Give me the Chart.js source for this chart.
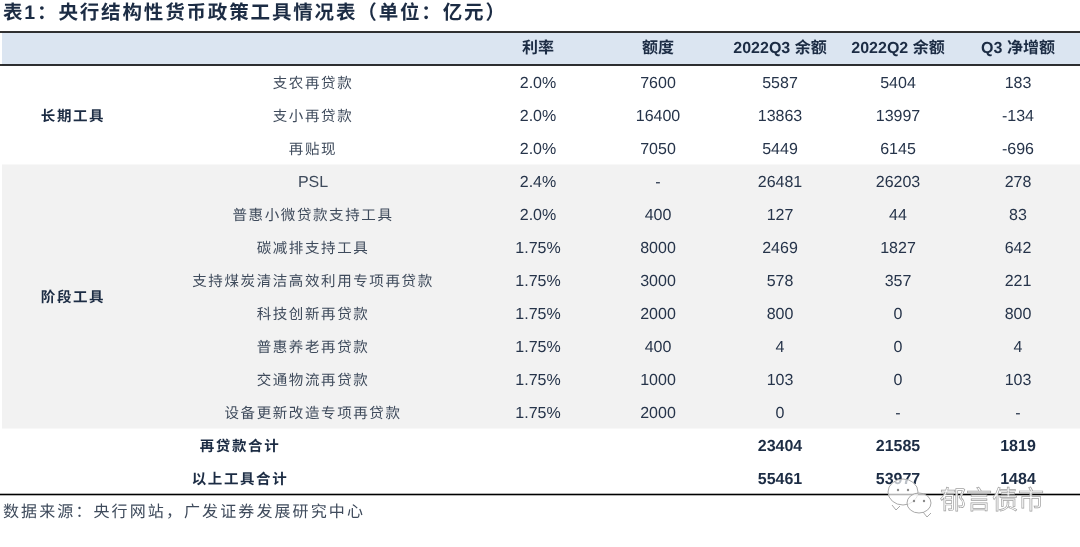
<!DOCTYPE html>
<html>
<head>
<meta charset="utf-8">
<script src="https://cdn.jsdelivr.net/npm/chart.js@4/dist/chart.umd.js"></script>
<style>
  html, body { margin: 0; padding: 0; background: #fff; }
  canvas { display: block; }
</style>
</head>
<body>
<canvas id="c" width="1080" height="547"></canvas>
<script>
// ── table content ─────────────────────────────────────────────
const titleText = "表1：央行结构性货币政策工具情况表（单位：亿元）";
const sourceText = "数据来源：央行网站，广发证券发展研究中心";
const watermarkText = "郁言债市";

const headers = ["", "利率", "额度", "2022Q3 余额", "2022Q2 余额", "Q3 净增额"];
const toolNames = ["支农再贷款", "支小再贷款", "再贴现", "PSL", "普惠小微贷款支持工具", "碳减排支持工具",
  "支持煤炭清洁高效利用专项再贷款", "科技创新再贷款", "普惠养老再贷款", "交通物流再贷款", "设备更新改造专项再贷款",
  "再贷款合计", "以上工具合计"];
const rates = ["2.0%", "2.0%", "2.0%", "2.4%", "2.0%", "1.75%", "1.75%", "1.75%", "1.75%", "1.75%", "1.75%", "", ""];
const quotas = ["7600", "16400", "7050", "-", "400", "8000", "3000", "2000", "400", "1000", "2000", "", ""];
const balanceQ3 = ["5587", "13863", "5449", "26481", "127", "2469", "578", "800", "4", "103", "0", "23404", "55461"];
const balanceQ2 = ["5404", "13997", "6145", "26203", "44", "1827", "357", "0", "0", "0", "-", "21585", "53977"];
const netQ3 = ["183", "-134", "-696", "278", "83", "642", "221", "800", "4", "103", "-", "1819", "1484"];

// ── layout ────────────────────────────────────────────────────
const COLUMN_X = [313, 538, 658, 780, 898, 1018];
const TOTAL_X = 240;
const GROUP_X = 73;
const NUM_FONT = '"Liberation Sans", "Noto Sans CJK SC", sans-serif';
const CJK_FONT = '"Noto Sans CJK SC", sans-serif';
const INK = "#26344a";

const columns = [toolNames, rates, quotas, balanceQ3, balanceQ2, netQ3];
const rowLabels = ["header", ...toolNames];
const firstTotal = toolNames.length - 2;

const datasets = columns.map((col, k) => ({
  label: headers[k] || "工具",
  pointRadius: 0,
  showLine: false,
  data: [
    { x: COLUMN_X[k], y: 0, text: headers[k] },
    ...col.map((text, i) => ({
      x: k === 0 && i >= firstTotal ? TOTAL_X : COLUMN_X[k],
      y: i + 1,
      text,
    })),
  ],
}));

const tablePlugin = {
  id: "tablePlugin",
  beforeDatasetsDraw(chart) {
    const { ctx, chartArea, scales } = chart;
    const yEdge = (i) => scales.y.getPixelForValue(i) - 16.5;
    const { left, right } = chartArea;
    ctx.save();
    ctx.fillStyle = "#dbe5f1";
    ctx.fillRect(left + 2, yEdge(0), right - left, yEdge(1) - yEdge(0));
    ctx.fillStyle = "#f2f2f2";
    ctx.fillRect(left + 2, yEdge(4), right - left, yEdge(12) - yEdge(4));
    ctx.restore();
  },
  afterDatasetsDraw(chart) {
    const { ctx, scales, chartArea } = chart;
    ctx.save();
    ctx.textAlign = "center";
    ctx.textBaseline = "middle";
    ctx.textRendering = "geometricPrecision";

    chart.data.datasets.forEach((ds, k) => {
      const meta = chart.getDatasetMeta(k);
      ds.data.forEach((cell, i) => {
        if (!cell.text) return;
        const bold = i === 0 || i > firstTotal;
        const el = meta.data[i];
        let dy = 1;
        ctx.fillStyle = bold ? "#1c2c44" : k === 0 ? "#3f4b5c" : INK;
        if (k === 0 && cell.text !== "PSL") {
          ctx.font = `${bold ? "bold " : ""}14.5px ${CJK_FONT}`;
          ctx.letterSpacing = "1.6px";
          dy = 0;
        } else {
          ctx.font = `${bold ? "bold " : ""}16px ${NUM_FONT}`;
          ctx.letterSpacing = "0px";
          dy = i === 0 ? 0 : 1.5;
        }
        ctx.fillText(cell.text, el.x, el.y + dy);
      });
    });

    // group labels, centred on the rows they span
    const y = (i) => scales.y.getPixelForValue(i);
    ctx.font = `bold 14.5px ${CJK_FONT}`;
    ctx.letterSpacing = "1.6px";
    ctx.fillStyle = "#1c2c44";
    ctx.fillText("长期工具", GROUP_X, (y(1) + y(3)) / 2);
    ctx.fillText("阶段工具", GROUP_X, (y(4) + y(11)) / 2);

    // rules
    const rule = (py, w) => {
      ctx.fillStyle = "#000";
      ctx.fillRect(chartArea.left, py - w / 2, chartArea.right, w);
    };
    rule(y(0) - 17, 1.6);
    rule(y(1) - 17, 1.6);
    rule(y(13) + 16.5, 1.6);

    // title and source
    ctx.textAlign = "left";
    ctx.fillStyle = "#1c2c44";
    ctx.font = `bold 19.5px ${NUM_FONT}`;
    ctx.letterSpacing = "1.85px";
    ctx.fillText(titleText, 3, 14);
    ctx.font = `16px ${CJK_FONT}`;
    ctx.letterSpacing = "2.1px";
    ctx.fillStyle = "#3f4b5c";
    ctx.fillText(sourceText, 3, 511);

    drawWatermark(ctx);
    ctx.restore();
  },
};

// wechat style badge over the lower right corner
function bubble(ctx, cx, cy, rx, ry, tailX, tailY) {
  ctx.beginPath();
  ctx.ellipse(cx, cy, rx, ry, 0, 0, Math.PI * 2);
  ctx.fillStyle = "rgba(255,255,255,0.7)";
  ctx.fill();
  ctx.stroke();
  ctx.beginPath();
  ctx.moveTo(tailX - 4, tailY - 5);
  ctx.lineTo(tailX, tailY);
  ctx.lineTo(tailX + 4, tailY - 4);
  ctx.stroke();
  ctx.fillStyle = "#8a8a8a";
  [-5, 5].forEach((d) => {
    ctx.beginPath();
    ctx.arc(cx + d, cy - 2, 1.2, 0, Math.PI * 2);
    ctx.fill();
  });
}

function drawWatermark(ctx) {
  ctx.letterSpacing = "0px";
  ctx.strokeStyle = "#a8a8a8";
  ctx.lineWidth = 1;
  bubble(ctx, 903, 492, 15, 13, 896, 510);
  bubble(ctx, 919, 503, 12, 10, 927, 517);
  ctx.font = `26px ${CJK_FONT}`;
  ctx.textAlign = "left";
  ctx.fillStyle = "rgba(255,255,255,0.9)";
  ctx.fillText(watermarkText, 940, 499);
  ctx.strokeStyle = "#a0a0a0";
  ctx.lineWidth = 0.7;
  ctx.strokeText(watermarkText, 940, 499);
}

new Chart(document.getElementById("c"), {
  type: "scatter",
  data: { labels: rowLabels, datasets },
  options: {
    responsive: false,
    animation: false,
    devicePixelRatio: 1,
    layout: { padding: { top: 32.5, bottom: 52.5, left: 0, right: 0 } },
    plugins: { legend: { display: false }, tooltip: { enabled: false } },
    scales: {
      x: { type: "linear", min: 0, max: 1080, display: false },
      y: { type: "category", labels: rowLabels, offset: true, display: false },
    },
  },
  plugins: [tablePlugin],
});
</script>
</body>
</html>
